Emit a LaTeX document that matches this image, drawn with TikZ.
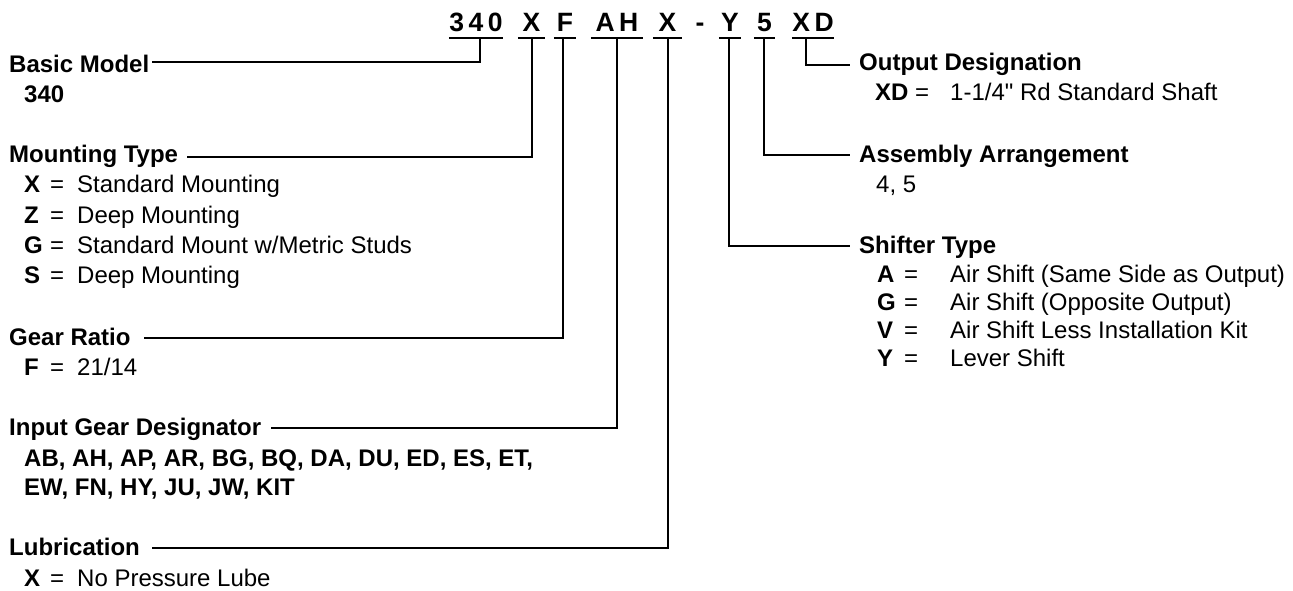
\documentclass[tikz,border=0pt]{standalone}
\usepackage{fontspec}
\setmainfont{Liberation Sans}[Ligatures=TeXOff]
\begin{document}
\begin{tikzpicture}[x=1pt,y=-1pt,
  code/.style={font=\fontsize{26.5}{30}\selectfont\bfseries, anchor=base, inner xsep=0pt, inner ysep=0pt},
  head/.style={font=\fontsize{24}{28}\selectfont\bfseries, anchor=base west, inner sep=0pt},
  body/.style={font=\fontsize{24}{28}\selectfont, anchor=base west, inner sep=0pt},
  key/.style={font=\fontsize{24}{28}\selectfont\bfseries, anchor=base west, inner sep=0pt},
  ln/.style={line width=1.8pt, line cap=butt},
  ul/.style={line width=1.8pt}
]
\useasboundingbox (0,0) rectangle (1293,591);

% ---- code string ----
\node[code, minimum width=54pt] (c1) at (476,32) {3\kern4.5pt4\kern4.5pt0};
\node[code, minimum width=27pt] (c2) at (531.5,32) {X};
\node[code, minimum width=22pt] (c3) at (565,32) {F};
\node[code, minimum width=52pt] (c4) at (617,32) {A\kern4.5ptH};
\node[code, minimum width=29pt] (c5) at (667.5,32) {X};
\node[code] (c6) at (700,32) {-};
\node[code, minimum width=22pt] (c7) at (730,32) {Y};
\node[code, minimum width=21pt] (c8) at (764.5,32) {5};
\node[code, minimum width=42pt] (c9) at (813,32) {X\kern4.5ptD};

\foreach \c in {c1,c2,c3,c4,c5,c7,c8,c9}
  \draw[ul] ([yshift=-6pt]\c.base west) -- ([yshift=-6pt]\c.base east);

\coordinate (u1) at (480,38);
\coordinate (u2) at (532,38);
\coordinate (u3) at (563,38);
\coordinate (u4) at (617,38);
\coordinate (u5) at (668,38);
\coordinate (u7) at (729,38);
\coordinate (u8) at (764,38);
\coordinate (u9) at (806,38);

% ---- left side ----
\node[head] (h1) at (9,73) {Basic Model};
\node[key] (k1) at (24,103) {340};
\coordinate (e1) at (152,62);

\node[head] (h2) at (9,163) {Mounting Type};
\coordinate (e2) at (187,157);
\node[key] (k2a) at (24,193) {X};
\node[body] (q2a) at (50,193) {=};
\node[body] (t2a) at (77,193) {Standard Mounting};
\node[key] (k2b) at (24,223) {Z};
\node[body] (q2b) at (50,223) {=};
\node[body] (t2b) at (77,223) {Deep Mounting};
\node[key] (k2c) at (24,253) {G};
\node[body] (q2c) at (50,253) {=};
\node[body] (t2c) at (77,253) {Standard Mount w/Metric Studs};
\node[key] (k2d) at (24,283) {S};
\node[body] (q2d) at (50,283) {=};
\node[body] (t2d) at (77,283) {Deep Mounting};

\node[head] (h3) at (9,345) {Gear Ratio};
\coordinate (e3) at (144,338);
\node[key] (k3) at (24,375) {F};
\node[body] (q3) at (50,375) {=};
\node[body] (t3) at (77,375) {21/14};

\node[head] (h4) at (9,435) {Input Gear Designator};
\coordinate (e4) at (271,428);
\node[key] (k4a) at (24,466) {AB, AH, AP, AR, BG, BQ, DA, DU, ED, ES, ET,};
\node[key] (k4b) at (24,495) {EW, FN, HY, JU, JW, KIT};

\node[head] (h5) at (9,555) {Lubrication};
\coordinate (e5) at (152,548);
\node[key] (k5) at (24,586) {X};
\node[body] (q5) at (50,586) {=};
\node[body] (t5) at (77,586) {No Pressure Lube};

% ---- right side ----
\node[head] (h9) at (859,71) {Output Designation};
\coordinate (e9) at (850,65);
\node[key] (k9) at (875,101) {XD};
\node[body] (q9) at (915,101) {=};
\node[body] (t9) at (950,101) {1-1/4" Rd Standard Shaft};

\node[head] (h8) at (859,162) {Assembly Arrangement};
\coordinate (e8) at (850,155);
\node[body] (t8) at (876,193) {4, 5};

\node[head] (h7) at (859,253) {Shifter Type};
\coordinate (e7) at (850,246);
\node[key] (k7a) at (877,282) {A};
\node[body] (q7a) at (904,282) {=};
\node[body] (t7a) at (950,282) {Air Shift (Same Side as Output)};
\node[key] (k7b) at (877,310) {G};
\node[body] (q7b) at (904,310) {=};
\node[body] (t7b) at (950,310) {Air Shift (Opposite Output)};
\node[key] (k7c) at (877,338) {V};
\node[body] (q7c) at (904,338) {=};
\node[body] (t7c) at (950,338) {Air Shift Less Installation Kit};
\node[key] (k7d) at (877,366) {Y};
\node[body] (q7d) at (904,366) {=};
\node[body] (t7d) at (950,366) {Lever Shift};

% ---- connectors ----
\draw[ln] (u1) |- (e1);
\draw[ln] (u2) |- (e2);
\draw[ln] (u3) |- (e3);
\draw[ln] (u4) |- (e4);
\draw[ln] (u5) |- (e5);
\draw[ln] (u7) |- (e7);
\draw[ln] (u8) |- (e8);
\draw[ln] (u9) |- (e9);
\end{tikzpicture}
\end{document}
